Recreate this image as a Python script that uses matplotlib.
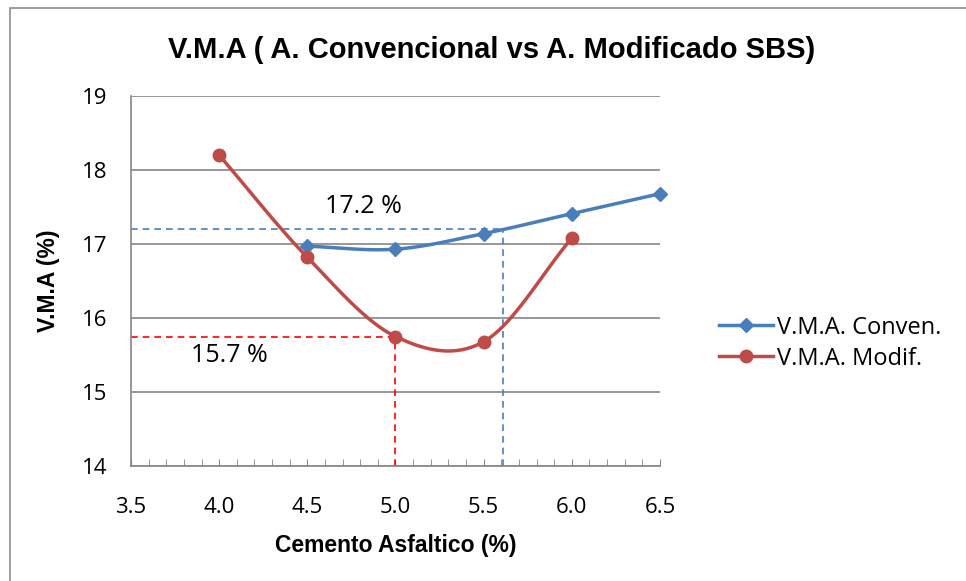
import numpy as np
import matplotlib.pyplot as plt
from matplotlib.patches import Rectangle

# Data
x_conv = [4.5, 5.0, 5.5, 6.0, 6.5]
vma_conv = [16.97, 16.93, 17.14, 17.41, 17.68]
x_modif = [4.0, 4.5, 5.0, 5.5, 6.0]
vma_modif = [18.20, 16.82, 15.75, 15.68, 17.08]

opt_conv = (5.61, 17.2)
opt_modif = (5.0, 15.75)

blue = '#4a7ebb'
red = '#be4b48'
grid_col = '#868686'


def smooth(xs, ys, n=30):
    # Catmull-Rom spline, similar to Excel's smoothed line
    xs = np.asarray(xs, float)
    ys = np.asarray(ys, float)
    px = np.concatenate([[2 * xs[0] - xs[1]], xs, [2 * xs[-1] - xs[-2]]])
    py = np.concatenate([[2 * ys[0] - ys[1]], ys, [2 * ys[-1] - ys[-2]]])
    outx, outy = [], []
    t = np.linspace(0, 1, n)
    for i in range(1, len(px) - 2):
        for p, out in ((px, outx), (py, outy)):
            p0, p1, p2, p3 = p[i - 1], p[i], p[i + 1], p[i + 2]
            v = 0.5 * ((2 * p1) + (-p0 + p2) * t +
                       (2 * p0 - 5 * p1 + 4 * p2 - p3) * t ** 2 +
                       (-p0 + 3 * p1 - 3 * p2 + p3) * t ** 3)
            out.extend(v)
    return np.array(outx), np.array(outy)


plt.rcParams['font.family'] = ['Open Sans', 'DejaVu Sans']

fig = plt.figure(figsize=(9.66, 5.81), dpi=100)
fig.patches.append(Rectangle((10 / 966, -0.1), 1.2, 1 - 8 / 581 + 0.1,
                             transform=fig.transFigure, fill=False,
                             edgecolor='#8c8c8c', lw=1.2))
ax = fig.add_axes([131 / 966, 1 - 466 / 581, 529 / 966, 370 / 581])

ax.set_xlim(3.5, 6.5)
ax.set_ylim(14, 19)
ax.set_yticks(range(14, 20))
ax.set_xticks(np.arange(3.5, 6.51, 0.5))
ax.set_xticklabels([f'{v:.1f}' for v in np.arange(3.5, 6.51, 0.5)])
ax.set_xticks(np.arange(3.5, 6.51, 0.1), minor=True)
ax.tick_params(axis='x', which='both', direction='in', length=5, color=grid_col,
               labelsize=16, pad=22)
ax.tick_params(axis='y', length=0, labelsize=16, pad=17)
ax.grid(axis='y', color=grid_col, lw=1.2)
ax.set_axisbelow(True)
for s in ['top', 'right']:
    ax.spines[s].set_visible(False)
for s in ['left', 'bottom']:
    ax.spines[s].set_color(grid_col)
    ax.spines[s].set_linewidth(1.2)

# reference dashed lines
ax.plot([3.5, opt_conv[0]], [opt_conv[1], opt_conv[1]], '--', color=blue, lw=1.2, dashes=(4, 3))
ax.plot([opt_conv[0], opt_conv[0]], [14, opt_conv[1]], '--', color=blue, lw=1.2, dashes=(4, 3))
ax.plot([3.5, opt_modif[0]], [opt_modif[1], opt_modif[1]], '--', color='#ff0000', lw=1.2, dashes=(4, 3))
ax.plot([opt_modif[0], opt_modif[0]], [14, opt_modif[1]], '--', color='#ff0000', lw=1.2, dashes=(4, 3))

sx, sy = smooth(x_conv, vma_conv)
ax.plot(sx, sy, color=blue, lw=2.5, clip_on=False)
ax.plot(x_conv, vma_conv, 'D', color=blue, ms=7, clip_on=False)
sx, sy = smooth(x_modif, vma_modif)
ax.plot(sx, sy, color=red, lw=2.5, clip_on=False)
ax.plot(x_modif, vma_modif, 'o', color=red, ms=9, clip_on=False)

# legend proxies
ax.plot([], [], '-D', color=blue, lw=2.5, ms=7, label='V.M.A. Conven.')
ax.plot([], [], '-o', color=red, lw=2.5, ms=9, label='V.M.A. Modif.')
handles, labels = ax.get_legend_handles_labels()
ax.legend(handles, labels, loc='center left', bbox_to_anchor=(1.094, 0.332),
          frameon=False, fontsize=17, handlelength=2.3, handletextpad=0.15,
          labelspacing=0.3, borderaxespad=0)

ax.text(4.82, 17.51, '17.2 %', fontsize=18, ha='center', va='center')
ax.text(4.06, 15.49, '15.7 %', fontsize=18, ha='center', va='center')

ax.set_xlabel('Cemento Asfaltico (%)', fontsize=16.5, fontweight='bold',
              family='Liberation Sans', labelpad=12)
ax.set_ylabel('V.M.A (%)', fontsize=16.5, fontweight='bold',
              family='Liberation Sans', labelpad=16)
fig.text(492 / 966, 1 - 50 / 581, 'V.M.A ( A. Convencional vs A. Modificado SBS)',
         fontsize=21, fontweight='bold', family='Liberation Sans',
         ha='center', va='center')

fig.savefig('out.png', dpi=100)
